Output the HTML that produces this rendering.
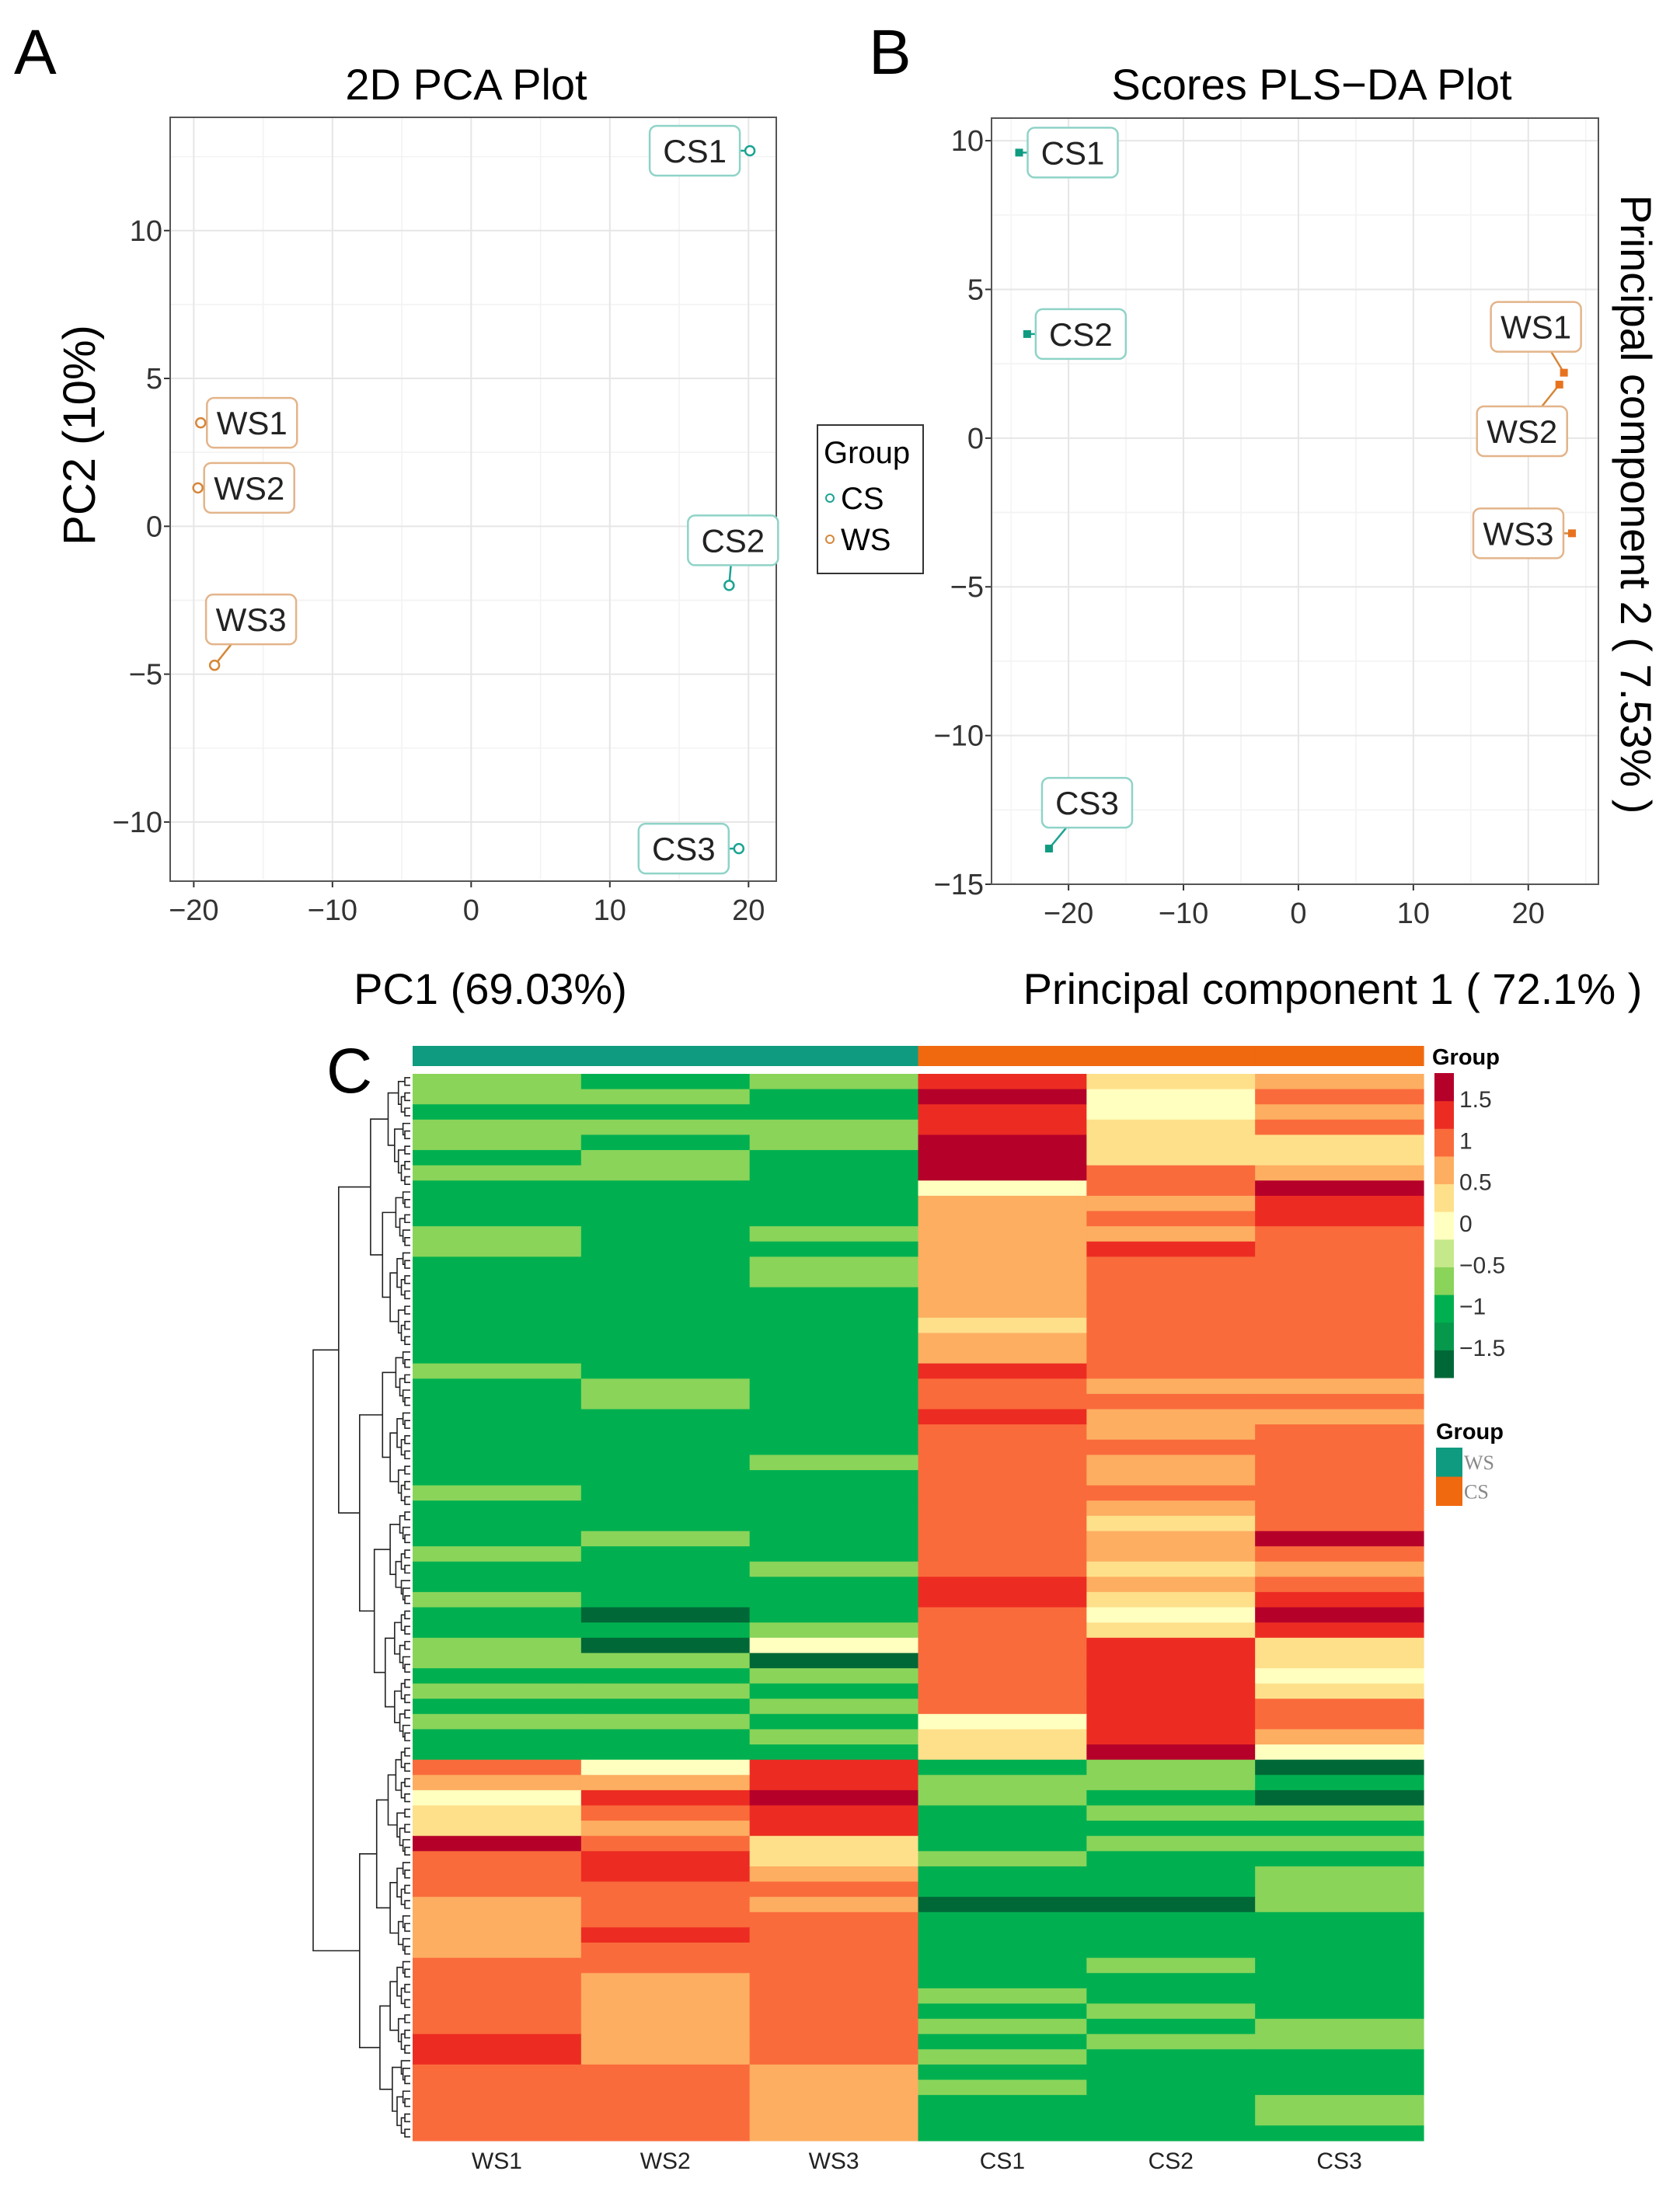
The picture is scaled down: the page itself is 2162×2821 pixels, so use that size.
<!DOCTYPE html>
<html><head><meta charset="utf-8">
<style>
html,body{margin:0;padding:0;background:#fff;}
svg{display:block;font-family:"Liberation Sans",Arial,sans-serif;}
</style></head>
<body>
<svg id="fig" width="2162" height="2821" viewBox="0 0 2162 2821" xmlns="http://www.w3.org/2000/svg">
<rect x="0" y="0" width="2162" height="2821" fill="#fff"/>
<text x="18" y="95" font-size="82">A</text>
<text x="1118" y="95" font-size="82">B</text>
<text x="420" y="1406" font-size="82">C</text>
<text x="600" y="128" font-size="56" text-anchor="middle">2D PCA Plot</text>
<text x="1688" y="128" font-size="56" text-anchor="middle">Scores PLS−DA Plot</text>
<text x="631" y="1292" font-size="56" text-anchor="middle">PC1 (69.03%)</text>
<text transform="translate(122,560) rotate(-90)" font-size="58" text-anchor="middle">PC2 (10%)</text>
<text x="1715" y="1292" font-size="56" text-anchor="middle">Principal component 1 ( 72.1% )</text>
<text transform="translate(2086,649) rotate(90)" font-size="56" text-anchor="middle">Principal component 2 ( 7.53% )</text>
<g id="legendA">
<rect x="1052" y="547" width="136" height="191" fill="#fff" stroke="#333" stroke-width="2"/>
<text x="1060" y="596" font-size="40">Group</text>
<circle cx="1068" cy="641" r="5" fill="none" stroke="#1ba392" stroke-width="2"/>
<text x="1082" y="655" font-size="40">CS</text>
<circle cx="1068" cy="694" r="5" fill="none" stroke="#d5873a" stroke-width="2"/>
<text x="1082" y="708" font-size="40">WS</text>
</g>
</svg>
<script>
// ---------- data ----------
const pcaSamples = ["CS1","CS2","CS3","WS1","WS2","WS3"];
const pcaGroups = ["CS","CS","CS","WS","WS","WS"];
const pcaPC1 = [20.1, 18.6, 19.3, -19.5, -19.7, -18.5];
const pcaPC2 = [12.7, -2.0, -10.9, 3.5, 1.3, -4.7];
const pcaXTicks = [-20, -10, 0, 10, 20];
const pcaYTicks = [-10, -5, 0, 5, 10];

const plsSamples = ["CS1","CS2","CS3","WS1","WS2","WS3"];
const plsGroups = ["CS","CS","CS","WS","WS","WS"];
const plsC1 = [-24.3, -23.6, -21.7, 23.1, 22.7, 23.8];
const plsC2 = [9.6, 3.5, -13.8, 2.2, 1.8, -3.2];
const plsXTicks = [-20, -10, 0, 10, 20];
const plsYTicks = [-15, -10, -5, 0, 5, 10];

const DG=-1.6, G=-1.1, LG=-0.7, Y=0, LO=0.35, O=0.65, OR=1.0, R=1.3, DR=1.65;
const heatSamples = ["WS1","WS2","WS3","CS1","CS2","CS3"];
const heatGroups = ["WS","WS","WS","CS","CS","CS"];
const heatMatrix = [
[LG,G,LG,R,LO,O],[LG,LG,G,DR,Y,OR],[G,G,G,R,Y,O],[LG,LG,LG,R,LO,OR],[LG,G,LG,DR,LO,LO],
[G,LG,G,DR,LO,LO],[LG,LG,G,DR,OR,O],[G,G,G,Y,OR,DR],[G,G,G,O,O,R],[G,G,G,O,OR,R],
[LG,G,LG,O,O,OR],[LG,G,G,O,R,OR],[G,G,LG,O,OR,OR],[G,G,LG,O,OR,OR],[G,G,G,O,OR,OR],
[G,G,G,O,OR,OR],[G,G,G,LO,OR,OR],[G,G,G,O,OR,OR],[G,G,G,O,OR,OR],[LG,G,G,R,OR,OR],
[G,LG,G,OR,O,O],[G,LG,G,OR,OR,OR],[G,G,G,R,O,O],[G,G,G,OR,O,OR],[G,G,G,OR,OR,OR],
[G,G,LG,OR,O,OR],[G,G,G,OR,O,OR],[LG,G,G,OR,OR,OR],[G,G,G,OR,O,OR],[G,G,G,OR,LO,OR],
[G,LG,G,OR,O,DR],[LG,G,G,OR,O,OR],[G,G,LG,OR,LO,O],[G,G,G,R,O,OR],[LG,G,G,R,LO,R],
[G,DG,G,OR,Y,DR],[G,G,LG,OR,LO,R],[LG,DG,Y,OR,R,LO],[LG,LG,DG,OR,R,LO],[G,G,LG,OR,R,Y],
[LG,LG,G,OR,R,LO],[G,G,LG,OR,R,OR],[LG,LG,G,Y,R,OR],[G,G,LG,LO,R,O],[G,G,G,LO,DR,Y],
[OR,Y,R,G,LG,DG],[O,O,R,LG,LG,G],[Y,R,DR,LG,G,DG],[LO,OR,R,G,LG,LG],[LO,O,R,G,G,G],
[DR,OR,LO,G,LG,LG],[OR,R,LO,LG,G,G],[OR,R,O,G,G,LG],[OR,OR,OR,G,G,LG],[O,OR,O,DG,DG,LG],
[O,OR,OR,G,G,G],[O,R,OR,G,G,G],[O,OR,OR,G,G,G],[OR,OR,OR,G,LG,G],[OR,O,OR,G,G,G],
[OR,O,OR,LG,G,G],[OR,O,OR,G,LG,G],[OR,O,OR,LG,G,LG],[R,O,OR,G,LG,LG],[R,O,OR,LG,G,G],
[OR,OR,O,G,G,G],[OR,OR,O,LG,G,G],[OR,OR,O,G,G,LG],[OR,OR,O,G,G,LG],[OR,OR,O,G,G,G]
];
const colorTicks = [1.5, 1, 0.5, 0, -0.5, -1, -1.5];

// ---------- styles ----------
const NS = "http://www.w3.org/2000/svg";
const svg = document.getElementById("fig");
const groupStroke = {CS:"#1ba392", WS:"#d5873a"};
const groupBox = {CS:"#8fd3c8", WS:"#e3b48a"};
const plsFill = {CS:"#0f9b80", WS:"#e8731f"};
const heatGroupColor = {WS:"#0f9b80", CS:"#f0690f"};
const binColors = ["#006837","#06994c","#00b050","#8ad45a","#c5e88a","#ffffbf","#fee08b","#fdae61","#fa6b3c","#ec2c22","#b5002a"];
const binMin = -1.75, binMax = 1.75;

function mk(tag, attrs, parent){
  const e = document.createElementNS(NS, tag);
  for (const k in attrs) e.setAttribute(k, attrs[k]);
  (parent || svg).appendChild(e);
  return e;
}
function fmt(v){ return v < 0 ? "\u2212" + Math.abs(v) : String(v); }

function scatter(p){
  const sx = v => p.left + (v - p.xmin) / (p.xmax - p.xmin) * (p.right - p.left);
  const sy = v => p.bottom - (v - p.ymin) / (p.ymax - p.ymin) * (p.bottom - p.top);
  const g = mk("g", {});
  
  
  mk("rect", {x:p.left, y:p.top, width:p.right-p.left, height:p.bottom-p.top, fill:"#fff"}, g);
  // minor grid
  for (let i = 0; i < p.xTicks.length; i++) {
    const t = p.xTicks[i];
    [t - p.xStep/2, t + p.xStep/2].forEach(m => {
      if (m > p.xmin && m < p.xmax) {
        const ln = mk("line", {x1:sx(m), x2:sx(m), y1:p.top, y2:p.bottom, stroke:"#f3f3f3", "stroke-width":1.5}, g);
        
        
      }
    });
  }
  for (let i = 0; i < p.yTicks.length; i++) {
    const t = p.yTicks[i];
    [t - p.yStep/2, t + p.yStep/2].forEach(m => {
      if (m > p.ymin && m < p.ymax) {
        const ln = mk("line", {x1:p.left, x2:p.right, y1:sy(m), y2:sy(m), stroke:"#f3f3f3", "stroke-width":1.5}, g);
        
        
      }
    });
  }
  p.xTicks.forEach(t => {
    const ln = mk("line", {x1:sx(t), x2:sx(t), y1:p.top, y2:p.bottom, stroke:"#e6e6e6", "stroke-width":2}, g);
    
    
    const tk = mk("line", {x1:sx(t), x2:sx(t), y1:p.bottom, y2:p.bottom+8, stroke:"#333", "stroke-width":2});
    
    
    const lb = mk("text", {x:sx(t), y:p.bottom+50, "font-size":38, "text-anchor":"middle", fill:"#333"});
    lb.textContent = fmt(t);
    
    
  });
  p.yTicks.forEach(t => {
    const ln = mk("line", {x1:p.left, x2:p.right, y1:sy(t), y2:sy(t), stroke:"#e6e6e6", "stroke-width":2}, g);
    
    
    const tk = mk("line", {x1:p.left-8, x2:p.left, y1:sy(t), y2:sy(t), stroke:"#333", "stroke-width":2});
    
    
    const lb = mk("text", {x:p.left-10, y:sy(t)+13, "font-size":38, "text-anchor":"end", fill:"#333"});
    lb.textContent = fmt(t);
    
    
  });
  const border = mk("rect", {x:p.left, y:p.top, width:p.right-p.left, height:p.bottom-p.top, fill:"none", stroke:"#555", "stroke-width":2});
  
  
  for (let i = 0; i < p.xs.length; i++) {
    const px = sx(p.xs[i]), py = sy(p.ys[i]);
    const grp = p.groups[i];
    const bx = px + p.offsets[i][0], by = py + p.offsets[i][1];
    const ld = mk("line", {x1:px, y1:py, x2:bx, y2:by, stroke:groupStroke[grp], "stroke-width":2.5});
    
    
    const bw = 116, bh = 64;
    const box = mk("rect", {x:bx-bw/2, y:by-bh/2, width:bw, height:bh, rx:9, fill:"#fff", stroke:groupBox[grp], "stroke-width":2.5});
    
    
    const tx = mk("text", {x:bx, y:by+15, "font-size":42, "text-anchor":"middle", fill:"#222"});
    tx.textContent = p.names[i];
    
    
    let pt;
    if (p.filled) pt = mk("rect", {x:px-5, y:py-5, width:10, height:10, fill:plsFill[grp]});
    else pt = mk("circle", {cx:px, cy:py, r:6, fill:"#fff", stroke:groupStroke[grp], "stroke-width":2.5});
    
    
  }
}

scatter({name:"pca", left:219, right:999, top:151, bottom:1134, xmin:-21.7, xmax:22.0, ymin:-12.0, ymax:13.83,
  xTicks:pcaXTicks, yTicks:pcaYTicks, xStep:10, yStep:5, xs:pcaPC1, ys:pcaPC2, names:pcaSamples, groups:pcaGroups,
  offsets:[[-71,0],[5,-58],[-71,0],[66,0],[66,0],[47,-59]], filled:false});
scatter({name:"pls", left:1276, right:2057, top:152, bottom:1138, xmin:-26.7, xmax:26.1, ymin:-15.0, ymax:10.76,
  xTicks:plsXTicks, yTicks:plsYTicks, xStep:10, yStep:5, xs:plsC1, ys:plsC2, names:plsSamples, groups:plsGroups,
  offsets:[[69,0],[69,0],[49,-59],[-36,-59],[-48,60],[-69,0]], filled:true});
svg.appendChild(document.getElementById("legendA"));

// ---------- heatmap ----------
const hmL = 531, hmR = 1832, hmT = 1382, hmB = 2755;
const cw = (hmR - hmL) / heatSamples.length;
const rh = (hmB - hmT) / heatMatrix.length;
function binColor(v){
  let i = Math.floor((v - binMin) / (binMax - binMin) * binColors.length);
  i = Math.max(0, Math.min(binColors.length - 1, i));
  return binColors[i];
}
const hg = mk("g", {});


heatMatrix.forEach((row, r) => {
  row.forEach((v, c) => {
    const cell = mk("rect", {x:hmL + c*cw, y:hmT + r*rh, width:cw+0.6, height:rh+0.6, fill:binColor(v)}, hg);
    
    
  });
});
heatGroups.forEach((gname, c) => {
  const b = mk("rect", {x:hmL + c*cw, y:1346, width:cw+0.6, height:26, fill:heatGroupColor[gname]});
  
  
});
heatSamples.forEach((s, c) => {
  const t = mk("text", {x:hmL + (c+0.5)*cw, y:2791, "font-size":30, "text-anchor":"middle", fill:"#222"});
  t.textContent = s;
  
  
});

// dendrogram (decorative)
const nLeaves = heatMatrix.length * 2;
const leafH = (hmB - hmT) / nLeaves;
const dg = mk("g", {stroke:"#222", "stroke-width":1.6, fill:"none"});


function build(lo, hi, first){
  if (hi - lo === 1) return {x:hmL - 3, y:hmT + (lo + 0.5) * leafH};
  let mid = first ? Math.round(nLeaves * 0.625) : lo + Math.max(1, Math.floor((hi - lo) * ((lo % 3 === 0) ? 0.42 : 0.55)));
  const a = build(lo, mid, false), b = build(mid, hi, false);
  const size = hi - lo;
  const x = Math.min(a.x, b.x, hmL - 126 * Math.pow(size / nLeaves, 0.65)) - 2;
  mk("path", {d:`M${a.x},${a.y}H${x}V${b.y}H${b.x}`}, dg);
  return {x:x, y:(a.y + b.y) / 2};
}
build(0, nLeaves, true);

// color legend
const lgT = 1381, lgB = 1773;
const binH = (lgB - lgT) / binColors.length;
const t1 = mk("text", {x:1843, y:1370, "font-size":29, "font-weight":"bold"});
t1.textContent = "Group";


binColors.forEach((col, i) => {
  const r = mk("rect", {x:1846, y:lgB - (i+1)*binH, width:25, height:binH+0.5, fill:col});
  
  
});
const zeroY = 1574, perUnit = 106.7;
colorTicks.forEach(v => {
  const t = mk("text", {x:1878, y:zeroY - v*perUnit + 11, "font-size":30, fill:"#333"});
  t.textContent = fmt(v);
  
  
});
const t2 = mk("text", {x:1848, y:1852, "font-size":29, "font-weight":"bold"});
t2.textContent = "Group";


["WS","CS"].forEach((gname, i) => {
  const r = mk("rect", {x:1848, y:1863 + i*37.5, width:34, height:37.5, fill:heatGroupColor[gname]});
  
  
  const t = mk("text", {x:1884, y:1891 + i*37.5, "font-size":26, fill:"#888", "font-family":"Liberation Serif, serif"});
  t.textContent = gname;
  
  
});
</script>
</body></html>
